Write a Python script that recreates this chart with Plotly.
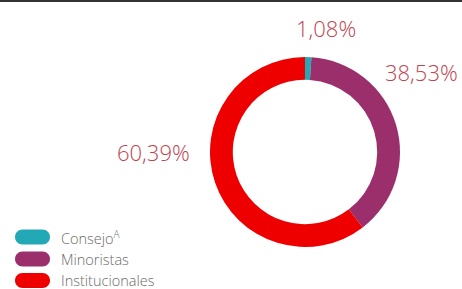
import plotly.graph_objects as go

labels = ["Consejo", "Minoristas", "Institucionales"]
legend_text = ["Consejo<sup>A</sup>", "Minoristas", "Institucionales"]
values = [1.08, 38.53, 60.39]
value_labels = ["1,08%", "38,53%", "60,39%"]
colors = ["#22a9b5", "#9b2f6c", "#ee0000"]

W, H = 462, 289
def px(x): return x / W
def py(y): return 1 - y / H

fig = go.Figure(go.Pie(
    labels=labels, values=values, sort=False, direction="clockwise", rotation=0,
    hole=0.76, marker=dict(colors=colors, line=dict(width=0)),
    textinfo="none", hoverinfo="label+value", showlegend=False,
    domain=dict(x=[px(210), px(400)], y=[py(247), py(57)]),
))

shapes = [dict(type="line", xref="paper", yref="paper", x0=0, x1=1, y0=py(1), y1=py(1),
               line=dict(color="#333333", width=2))]
annotations = []

# value labels
label_pos = [(326, 28), (421, 72), (153, 152)]
for (x, y), t in zip(label_pos, value_labels):
    annotations.append(dict(x=px(x), y=py(y), xref="paper", yref="paper", text=t, showarrow=False,
                            xanchor="center", yanchor="middle",
                            font=dict(family="Open Sans", size=22, color="#bd4450", weight=300)))

# legend pills
row_y = [237, 259, 280.5]
x0, x1, h = 15, 50, 15
for yc, c, t in zip(row_y, colors, legend_text):
    r = h / 2
    k = 0.5523 * r
    top, bot = yc - r, yc + r
    path = (f"M {px(x0 + r)},{py(top)} L {px(x1 - r)},{py(top)} "
            f"C {px(x1 - r + k)},{py(top)} {px(x1)},{py(yc - k)} {px(x1)},{py(yc)} "
            f"C {px(x1)},{py(yc + k)} {px(x1 - r + k)},{py(bot)} {px(x1 - r)},{py(bot)} "
            f"L {px(x0 + r)},{py(bot)} "
            f"C {px(x0 + r - k)},{py(bot)} {px(x0)},{py(yc + k)} {px(x0)},{py(yc)} "
            f"C {px(x0)},{py(yc - k)} {px(x0 + r - k)},{py(top)} {px(x0 + r)},{py(top)} Z")
    shapes.append(dict(type="path", xref="paper", yref="paper", path=path,
                       fillcolor=c, line=dict(width=0)))
    annotations.append(dict(x=px(59), y=py(yc), xref="paper", yref="paper", text=t, showarrow=False,
                            xanchor="left", yanchor="middle",
                            font=dict(family="Open Sans", size=14.5, color="#6a6a6a", weight=300)))

fig.update_layout(
    width=W, height=H, margin=dict(l=0, r=0, t=0, b=0),
    paper_bgcolor="white", plot_bgcolor="white",
    shapes=shapes, annotations=annotations,
)
fig.write_html("out.html", config={"displayModeBar": False},
               post_script="document.body.style.margin='0px';")
